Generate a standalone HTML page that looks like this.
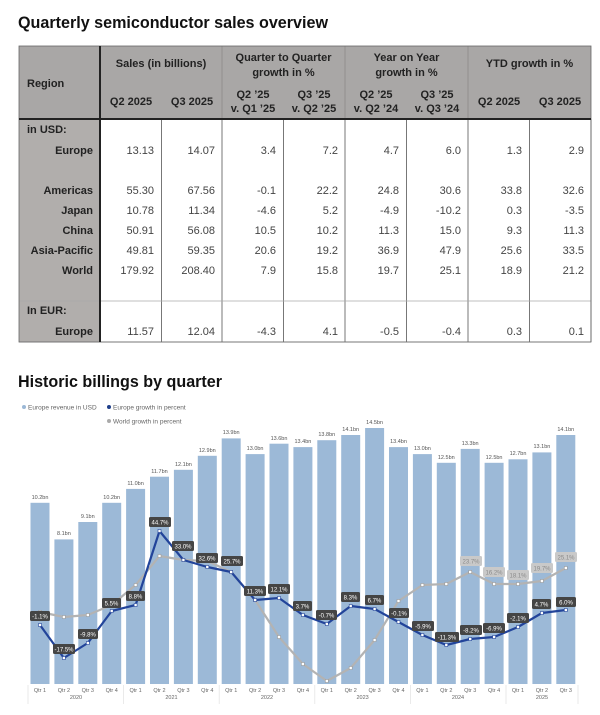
<!DOCTYPE html>
<html><head><meta charset="utf-8"><style>
html,body{margin:0;padding:0;background:#fff;width:600px;height:715px;overflow:hidden}
svg{display:block}
.t{font-family:"Liberation Sans",sans-serif}
</style></head><body>
<svg width="600" height="715" viewBox="0 0 600 715" xmlns="http://www.w3.org/2000/svg" class="t">
<text x="18" y="28" font-size="17" font-weight="bold" fill="#111" textLength="310" lengthAdjust="spacingAndGlyphs">Quarterly semiconductor sales overview</text>
<rect x="19" y="46" width="572" height="73" fill="#a9a7a6"/>
<rect x="19" y="119" width="81" height="223" fill="#b1aeac"/>
<g stroke="#8c8a89" stroke-width="0.8">
<line x1="222" y1="46" x2="222" y2="119"/><line x1="345" y1="46" x2="345" y2="119"/><line x1="468" y1="46" x2="468" y2="119"/>
</g>
<g stroke="#555" stroke-width="0.8">
<line x1="161.5" y1="119" x2="161.5" y2="342"/><line x1="222" y1="119" x2="222" y2="342"/><line x1="283.5" y1="119" x2="283.5" y2="342"/><line x1="345" y1="119" x2="345" y2="342"/><line x1="406.5" y1="119" x2="406.5" y2="342"/><line x1="468" y1="119" x2="468" y2="342"/><line x1="529.5" y1="119" x2="529.5" y2="342"/><line x1="591" y1="119" x2="591" y2="342"/>
</g>
<g stroke="#aaa" stroke-width="0.8"><line x1="19" y1="301" x2="591" y2="301"/><line x1="19" y1="342" x2="591" y2="342"/></g>
<rect x="19" y="46" width="572" height="296" fill="none" stroke="#666" stroke-width="0.8"/>
<line x1="100" y1="46" x2="100" y2="342" stroke="#222" stroke-width="2"/>
<line x1="19" y1="119" x2="591" y2="119" stroke="#222" stroke-width="2"/>
<g font-size="11" font-weight="bold" fill="#222" text-anchor="middle">
<text x="27" y="87" text-anchor="start">Region</text>
<text x="161" y="67">Sales (in billions)</text>
<text x="283.5" y="61">Quarter to Quarter</text><text x="283.5" y="76">growth in %</text>
<text x="406.5" y="61">Year on Year</text><text x="406.5" y="76">growth in %</text>
<text x="529.5" y="67">YTD growth in %</text>
<text x="131" y="105">Q2 2025</text><text x="192" y="105">Q3 2025</text>
<text x="253" y="98">Q2 ’25</text><text x="253" y="112">v. Q1 ’25</text>
<text x="314" y="98">Q3 ’25</text><text x="314" y="112">v. Q2 ’25</text>
<text x="376" y="98">Q2 ’25</text><text x="376" y="112">v. Q2 ’24</text>
<text x="437" y="98">Q3 ’25</text><text x="437" y="112">v. Q3 ’24</text>
<text x="499" y="105">Q2 2025</text><text x="560" y="105">Q3 2025</text>
</g>
<g font-size="11" font-weight="bold" fill="#222" text-anchor="end">
<text x="27" y="133" text-anchor="start">in USD:</text>
<text x="93" y="154">Europe</text>
<text x="93" y="194">Americas</text>
<text x="93" y="214">Japan</text>
<text x="93" y="234">China</text>
<text x="93" y="254">Asia-Pacific</text>
<text x="93" y="274">World</text>
<text x="27" y="314" text-anchor="start">In EUR:</text>
<text x="93" y="335">Europe</text>
</g>
<g font-size="11" fill="#444" text-anchor="end">
<g transform="translate(0,154)"><text x="154">13.13</text><text x="215">14.07</text><text x="276">3.4</text><text x="338">7.2</text><text x="399">4.7</text><text x="461">6.0</text><text x="522">1.3</text><text x="584">2.9</text></g>
<g transform="translate(0,194)"><text x="154">55.30</text><text x="215">67.56</text><text x="276">-0.1</text><text x="338">22.2</text><text x="399">24.8</text><text x="461">30.6</text><text x="522">33.8</text><text x="584">32.6</text></g>
<g transform="translate(0,214)"><text x="154">10.78</text><text x="215">11.34</text><text x="276">-4.6</text><text x="338">5.2</text><text x="399">-4.9</text><text x="461">-10.2</text><text x="522">0.3</text><text x="584">-3.5</text></g>
<g transform="translate(0,234)"><text x="154">50.91</text><text x="215">56.08</text><text x="276">10.5</text><text x="338">10.2</text><text x="399">11.3</text><text x="461">15.0</text><text x="522">9.3</text><text x="584">11.3</text></g>
<g transform="translate(0,254)"><text x="154">49.81</text><text x="215">59.35</text><text x="276">20.6</text><text x="338">19.2</text><text x="399">36.9</text><text x="461">47.9</text><text x="522">25.6</text><text x="584">33.5</text></g>
<g transform="translate(0,274)"><text x="154">179.92</text><text x="215">208.40</text><text x="276">7.9</text><text x="338">15.8</text><text x="399">19.7</text><text x="461">25.1</text><text x="522">18.9</text><text x="584">21.2</text></g>
<g transform="translate(0,335)"><text x="154">11.57</text><text x="215">12.04</text><text x="276">-4.3</text><text x="338">4.1</text><text x="399">-0.5</text><text x="461">-0.4</text><text x="522">0.3</text><text x="584">0.1</text></g>
</g>

<text x="18" y="387" font-size="17" font-weight="bold" fill="#111" textLength="204" lengthAdjust="spacingAndGlyphs">Historic billings by quarter</text>
<g font-size="6.5" fill="#666">
<circle cx="24" cy="407" r="2" fill="#9bb8d6"/><text x="28" y="409.5">Europe revenue in USD</text>
<circle cx="109" cy="407" r="2" fill="#1f3f8a"/><text x="113" y="409.5">Europe growth in percent</text>
<circle cx="109" cy="421" r="2" fill="#aaa"/><text x="113" y="423.5">World growth in percent</text>
</g>
<g fill="#9cb9d7">
<rect x="30.5" y="502.8" width="19" height="181.2"/>
<rect x="54.4" y="539.4" width="19" height="144.6"/>
<rect x="78.3" y="522" width="19" height="162"/>
<rect x="102.2" y="502.8" width="19" height="181.2"/>
<rect x="126.1" y="488.9" width="19" height="195.1"/>
<rect x="150" y="476.7" width="19" height="207.3"/>
<rect x="173.9" y="469.8" width="19" height="214.2"/>
<rect x="197.8" y="455.8" width="19" height="228.2"/>
<rect x="221.7" y="438.4" width="19" height="245.6"/>
<rect x="245.6" y="454.1" width="19" height="229.9"/>
<rect x="269.5" y="443.7" width="19" height="240.3"/>
<rect x="293.4" y="447.1" width="19" height="236.9"/>
<rect x="317.3" y="440.2" width="19" height="243.8"/>
<rect x="341.2" y="435" width="19" height="249"/>
<rect x="365.1" y="428" width="19" height="256"/>
<rect x="389" y="447.1" width="19" height="236.9"/>
<rect x="412.9" y="454.1" width="19" height="229.9"/>
<rect x="436.8" y="462.8" width="19" height="221.2"/>
<rect x="460.7" y="448.9" width="19" height="235.1"/>
<rect x="484.6" y="462.8" width="19" height="221.2"/>
<rect x="508.5" y="459.3" width="19" height="224.7"/>
<rect x="532.4" y="452.4" width="19" height="231.6"/>
<rect x="556.3" y="435" width="19" height="249"/>
</g>
<g font-size="5.5" fill="#555" text-anchor="middle">
<text x="40" y="499">10.2bn</text><text x="63.9" y="535">8.1bn</text><text x="87.8" y="518">9.1bn</text><text x="111.7" y="499">10.2bn</text><text x="135.6" y="485">11.0bn</text><text x="159.5" y="473">11.7bn</text><text x="183.4" y="466">12.1bn</text><text x="207.3" y="452">12.9bn</text><text x="231.2" y="434">13.9bn</text><text x="255.1" y="450">13.0bn</text><text x="279" y="440">13.6bn</text><text x="302.9" y="443">13.4bn</text><text x="326.8" y="436">13.8bn</text><text x="350.7" y="431">14.1bn</text><text x="374.6" y="424">14.5bn</text><text x="398.5" y="443">13.4bn</text><text x="422.4" y="450">13.0bn</text><text x="446.3" y="459">12.5bn</text><text x="470.2" y="445">13.3bn</text><text x="494.1" y="459">12.5bn</text><text x="518" y="455">12.7bn</text><text x="541.9" y="448">13.1bn</text><text x="565.8" y="431">14.1bn</text>
</g>
<polyline fill="none" stroke="#b3b3b3" stroke-width="2.2" stroke-linejoin="round" points="40,612 63.9,617 87.8,615 111.7,605 135.6,585 159.5,556 183.4,560 207.3,561 231.2,572 255.1,600 279,637 302.9,664 326.8,681 350.7,668 374.6,640 398.5,601 422.4,585 446.3,584 470.2,572 494.1,584 518,584 541.9,581 565.8,568"/>
<polyline fill="none" stroke="#22449a" stroke-width="2.2" stroke-linejoin="round" points="40,625 63.9,658 87.8,643 111.7,611 135.6,605 159.5,531 183.4,560 207.3,567 231.2,572 255.1,600 279,598 302.9,615 326.8,624 350.7,606 374.6,609 398.5,622 422.4,635 446.3,645 470.2,639 494.1,637 518,627 541.9,613 565.8,610"/>
<g fill="#fff" stroke="#999" stroke-width="0.6">
<rect x="38.5" y="610.5" width="3" height="3"/><rect x="62.4" y="615.5" width="3" height="3"/><rect x="86.3" y="613.5" width="3" height="3"/><rect x="110.2" y="603.5" width="3" height="3"/><rect x="134.1" y="583.5" width="3" height="3"/><rect x="158" y="554.5" width="3" height="3"/><rect x="181.9" y="558.5" width="3" height="3"/><rect x="205.8" y="559.5" width="3" height="3"/><rect x="229.7" y="570.5" width="3" height="3"/><rect x="253.6" y="598.5" width="3" height="3"/><rect x="277.5" y="635.5" width="3" height="3"/><rect x="301.4" y="662.5" width="3" height="3"/><rect x="325.3" y="679.5" width="3" height="3"/><rect x="349.2" y="666.5" width="3" height="3"/><rect x="373.1" y="638.5" width="3" height="3"/><rect x="397" y="599.5" width="3" height="3"/><rect x="420.9" y="583.5" width="3" height="3"/><rect x="444.8" y="582.5" width="3" height="3"/><rect x="468.7" y="570.5" width="3" height="3"/><rect x="492.6" y="582.5" width="3" height="3"/><rect x="516.5" y="582.5" width="3" height="3"/><rect x="540.4" y="579.5" width="3" height="3"/><rect x="564.3" y="566.5" width="3" height="3"/>
</g>
<g fill="#fff" stroke="#22449a" stroke-width="0.6">
<rect x="38.5" y="623.5" width="3" height="3"/><rect x="62.4" y="656.5" width="3" height="3"/><rect x="86.3" y="641.5" width="3" height="3"/><rect x="110.2" y="609.5" width="3" height="3"/><rect x="134.1" y="603.5" width="3" height="3"/><rect x="158" y="529.5" width="3" height="3"/><rect x="181.9" y="558.5" width="3" height="3"/><rect x="205.8" y="565.5" width="3" height="3"/><rect x="229.7" y="570.5" width="3" height="3"/><rect x="253.6" y="598.5" width="3" height="3"/><rect x="277.5" y="596.5" width="3" height="3"/><rect x="301.4" y="613.5" width="3" height="3"/><rect x="325.3" y="622.5" width="3" height="3"/><rect x="349.2" y="604.5" width="3" height="3"/><rect x="373.1" y="607.5" width="3" height="3"/><rect x="397" y="620.5" width="3" height="3"/><rect x="420.9" y="633.5" width="3" height="3"/><rect x="444.8" y="643.5" width="3" height="3"/><rect x="468.7" y="637.5" width="3" height="3"/><rect x="492.6" y="635.5" width="3" height="3"/><rect x="516.5" y="625.5" width="3" height="3"/><rect x="540.4" y="611.5" width="3" height="3"/><rect x="564.3" y="608.5" width="3" height="3"/>
</g>
<g font-size="6" fill="#fff" text-anchor="middle">
<g fill="#454545">
<rect x="30" y="611" width="20" height="10" rx="1.5"/><rect x="53" y="644" width="22" height="10" rx="1.5"/><rect x="78" y="629" width="20" height="10" rx="1.5"/><rect x="102" y="598" width="19" height="10" rx="1.5"/><rect x="126" y="591" width="19" height="10" rx="1.5"/><rect x="149" y="517" width="22" height="10" rx="1.5"/><rect x="172" y="541" width="22" height="10" rx="1.5"/><rect x="196" y="553" width="22" height="10" rx="1.5"/><rect x="221" y="556" width="22" height="10" rx="1.5"/><rect x="244" y="586" width="22" height="10" rx="1.5"/><rect x="268" y="584" width="22" height="10" rx="1.5"/><rect x="293" y="601" width="19" height="10" rx="1.5"/><rect x="316" y="610" width="21" height="10" rx="1.5"/><rect x="341" y="592" width="19" height="10" rx="1.5"/><rect x="365" y="595" width="19" height="10" rx="1.5"/><rect x="389" y="608" width="20" height="10" rx="1.5"/><rect x="412" y="621" width="22" height="10" rx="1.5"/><rect x="435" y="632" width="24" height="10" rx="1.5"/><rect x="460" y="625" width="22" height="10" rx="1.5"/><rect x="483" y="623" width="22" height="10" rx="1.5"/><rect x="507" y="613" width="22" height="10" rx="1.5"/><rect x="532" y="599" width="19" height="10" rx="1.5"/><rect x="556" y="597" width="20" height="10" rx="1.5"/>
</g>
<text x="40" y="618.5">-1.1%</text><text x="64" y="651.5">-17.5%</text><text x="88" y="636.5">-9.8%</text><text x="111.5" y="605.5">5.5%</text><text x="135.5" y="598.5">8.8%</text><text x="160" y="524.5">44.7%</text><text x="183" y="548.5">33.0%</text><text x="207" y="560.5">32.6%</text><text x="232" y="563.5">25.7%</text><text x="255" y="593.5">11.3%</text><text x="279" y="591.5">12.1%</text><text x="302.5" y="608.5">3.7%</text><text x="326.5" y="617.5">-0.7%</text><text x="350.5" y="599.5">8.3%</text><text x="374.5" y="602.5">6.7%</text><text x="399" y="615.5">-0.1%</text><text x="423" y="628.5">-5.9%</text><text x="447" y="639.5">-11.3%</text><text x="471" y="632.5">-8.2%</text><text x="494" y="630.5">-6.9%</text><text x="518" y="620.5">-2.1%</text><text x="541.5" y="606.5">4.7%</text><text x="566" y="604.5">6.0%</text>
</g>
<g font-size="6" fill="#8a8a8a" text-anchor="middle">
<g fill="#c9c9c9">
<rect x="460" y="556" width="22" height="10" rx="1.5"/><rect x="483" y="567" width="22" height="10" rx="1.5"/><rect x="507" y="570" width="22" height="10" rx="1.5"/><rect x="531" y="563" width="22" height="10" rx="1.5"/><rect x="555" y="552" width="22" height="10" rx="1.5"/>
</g>
<text x="471" y="563.5">23.7%</text><text x="494" y="574.5">16.2%</text><text x="518" y="577.5">18.1%</text><text x="542" y="570.5">19.7%</text><text x="566" y="559.5">25.1%</text>
</g>
<g stroke="#e4e4e4" stroke-width="0.8">
<line x1="28" y1="685" x2="28" y2="704"/><line x1="123.6" y1="685" x2="123.6" y2="704"/><line x1="219.2" y1="685" x2="219.2" y2="704"/><line x1="314.8" y1="685" x2="314.8" y2="704"/><line x1="410.4" y1="685" x2="410.4" y2="704"/><line x1="506" y1="685" x2="506" y2="704"/><line x1="578" y1="685" x2="578" y2="704"/>
</g>
<g font-size="5.5" fill="#666" text-anchor="middle">
<g transform="translate(0,692)">
<text x="40">Qtr 1</text><text x="63.9">Qtr 2</text><text x="87.8">Qtr 3</text><text x="111.7">Qtr 4</text><text x="135.6">Qtr 1</text><text x="159.5">Qtr 2</text><text x="183.4">Qtr 3</text><text x="207.3">Qtr 4</text><text x="231.2">Qtr 1</text><text x="255.1">Qtr 2</text><text x="279">Qtr 3</text><text x="302.9">Qtr 4</text><text x="326.8">Qtr 1</text><text x="350.7">Qtr 2</text><text x="374.6">Qtr 3</text><text x="398.5">Qtr 4</text><text x="422.4">Qtr 1</text><text x="446.3">Qtr 2</text><text x="470.2">Qtr 3</text><text x="494.1">Qtr 4</text><text x="518">Qtr 1</text><text x="541.9">Qtr 2</text><text x="565.8">Qtr 3</text>
</g>
<g transform="translate(0,699)">
<text x="76">2020</text><text x="171.5">2021</text><text x="267">2022</text><text x="362.6">2023</text><text x="458">2024</text><text x="542">2025</text>
</g>
</g>
</svg>
</body></html>
